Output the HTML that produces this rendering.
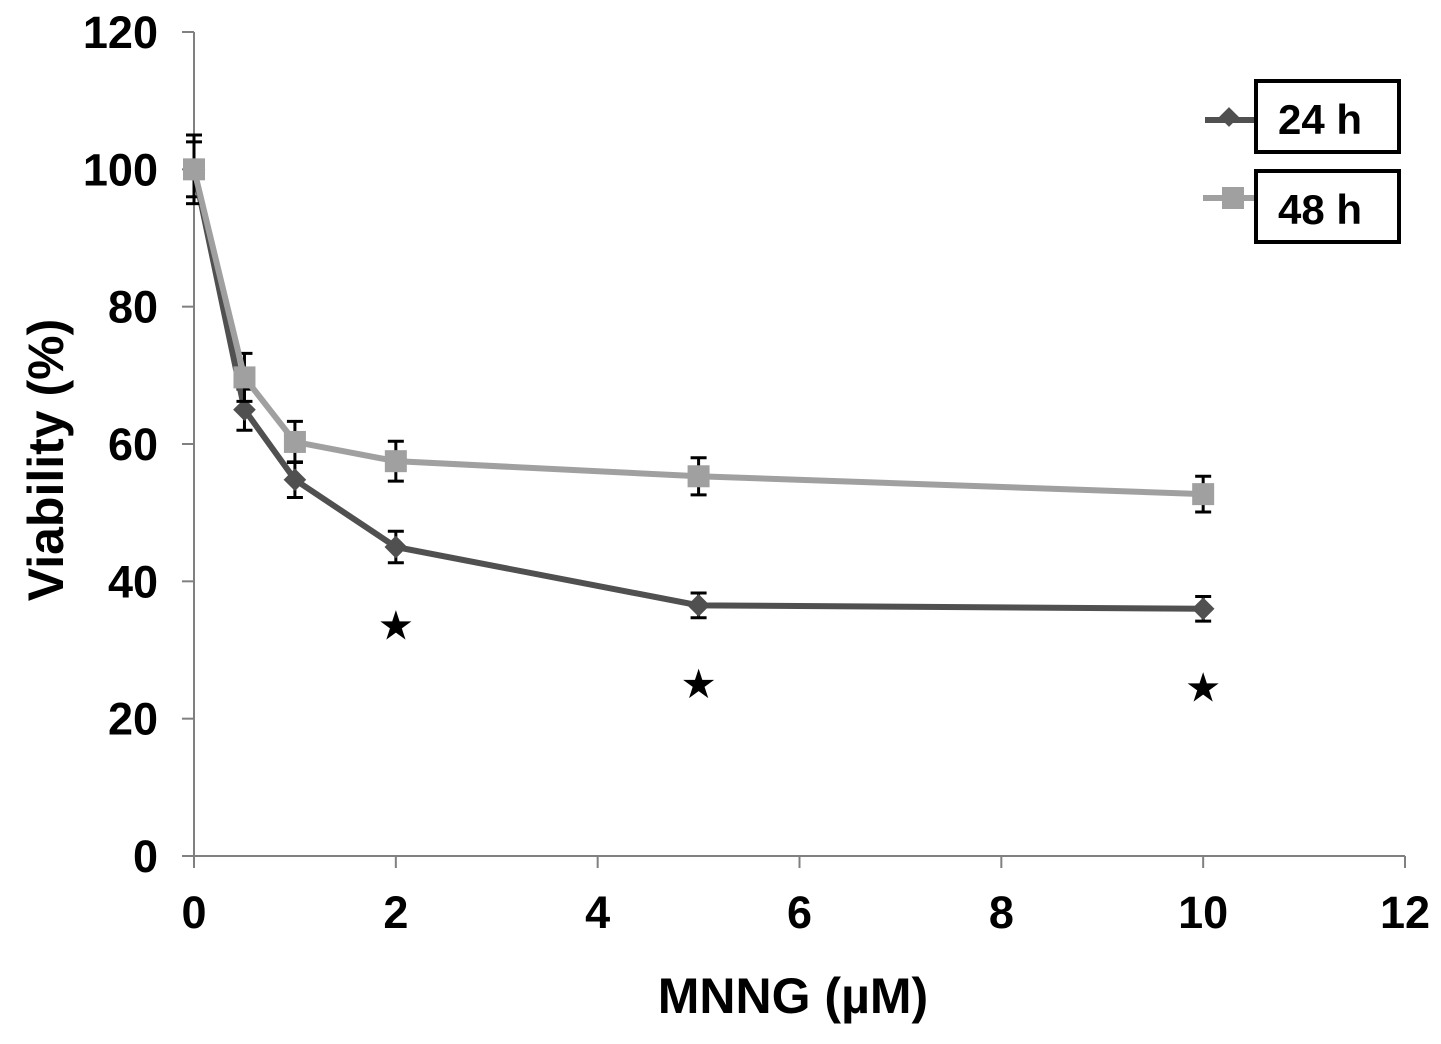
<!DOCTYPE html>
<html><head><meta charset="utf-8"><style>
body{margin:0;background:#fff;}
svg{display:block;font-family:"Liberation Sans",Arial,sans-serif;font-weight:bold;}
</style></head><body>
<svg id="chart" width="1441" height="1044" viewBox="0 0 1441 1044">
<g id="axes"></g>
<g id="series"></g>
<text x="793" y="1013" font-size="50" text-anchor="middle">MNNG (µM)</text>
<text transform="translate(63,460) rotate(-90)" font-size="50" text-anchor="middle">Viability (%)</text>
<g>
<g>
<line x1="1205" y1="120" x2="1254" y2="120" stroke="#505050" stroke-width="6"/>
<rect x="1222" y="110" width="14" height="14" transform="rotate(45 1229 117)" fill="#505050"/>
<rect x="1256" y="81" width="143" height="71" fill="#fff" stroke="#000" stroke-width="4"/>
<text x="1320" y="134" font-size="42" text-anchor="middle">24 h</text></g>
<g>
<line x1="1203" y1="198" x2="1254" y2="198" stroke="#a0a0a0" stroke-width="6"/>
<rect x="1222" y="187" width="22" height="22" fill="#a0a0a0"/>
<rect x="1256" y="171" width="143" height="71" fill="#fff" stroke="#000" stroke-width="4"/>
<text x="1320" y="224" font-size="42" text-anchor="middle">48 h</text></g>
</g>
</svg>
<script>
const xVals=[0,0.5,1,2,5,10];
const s24=[100,65,54.8,45,36.5,36];
const e24=[4,3,2.6,2.3,1.8,1.8];
const s48=[100,69.7,60.3,57.5,55.3,52.7];
const e48=[5,3.5,3,2.9,2.7,2.6];
const starX=[2,5,10];
const starY=[33.5,25,24.5];
const xTicks=[0,2,4,6,8,10,12];
const yTicks=[0,20,40,60,80,100,120];
const X=v=>194+v*(1405-194)/12;
const Y=v=>856-v*(856-32)/120;
const NS="http://www.w3.org/2000/svg";
function mk(p,t,a){const e=document.createElementNS(NS,t);for(const k in a)e.setAttribute(k,a[k]);p.appendChild(e);return e;}
const ax=document.getElementById('axes');
mk(ax,'line',{x1:194,y1:32,x2:194,y2:856,stroke:'#808080','stroke-width':2});
mk(ax,'line',{x1:194,y1:856,x2:1405,y2:856,stroke:'#808080','stroke-width':2});
yTicks.forEach(t=>{mk(ax,'line',{x1:182,y1:Y(t),x2:194,y2:Y(t),stroke:'#808080','stroke-width':2});
const l=mk(ax,'text',{x:158,y:Y(t)+16,'font-size':45,'text-anchor':'end'});l.textContent=t;

});
xTicks.forEach(t=>{mk(ax,'line',{x1:X(t),y1:856,x2:X(t),y2:868,stroke:'#808080','stroke-width':2});
const l=mk(ax,'text',{x:X(t),y:928,'font-size':45,'text-anchor':'middle'});l.textContent=t;

});
const sg=document.getElementById('series');
function series(vals,errs,col,marker,name){
const g=mk(sg,'g',{});


vals.forEach((v,i)=>{const x=X(xVals[i]);
mk(g,'line',{x1:x,y1:Y(v-errs[i]),x2:x,y2:Y(v+errs[i]),stroke:'#000','stroke-width':3});
[v-errs[i],v+errs[i]].forEach(w=>mk(g,'line',{x1:x-8,y1:Y(w),x2:x+8,y2:Y(w),stroke:'#000','stroke-width':3}));});
mk(g,'polyline',{points:vals.map((v,i)=>X(xVals[i])+','+Y(v)).join(' '),fill:'none',stroke:col,'stroke-width':6});
vals.forEach((v,i)=>{const x=X(xVals[i]),y=Y(v);let m;
if(marker==='d')m=mk(g,'rect',{x:x-8,y:y-8,width:16,height:16,fill:col,transform:`rotate(45 ${x} ${y})`});
else m=mk(g,'rect',{x:x-11,y:y-11,width:22,height:22,fill:col});

});
}
series(s24,e24,'#505050','d','series-24h');
series(s48,e48,'#a0a0a0','s','series-48h');
starX.forEach((v,i)=>{const t=mk(sg,'text',{x:X(v),y:Y(starY[i])+12,'font-size':36,'text-anchor':'middle'});t.textContent='★';

});
</script>
</body></html>
